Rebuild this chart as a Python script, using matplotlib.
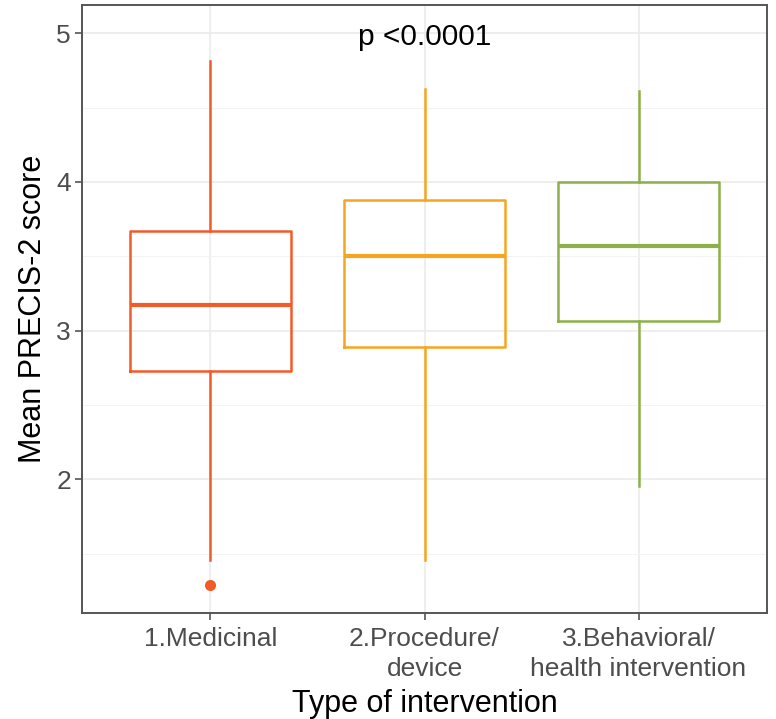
import matplotlib
matplotlib.use("Agg")
import matplotlib.pyplot as plt

plt.rcParams["font.family"] = ["Liberation Sans", "DejaVu Sans"]

# Five-number summaries per intervention type
categories = ["1.Medicinal", "2.Procedure/\ndevice", "3.Behavioral/\nhealth intervention"]
whislo = [1.456, 1.456, 1.953]
q1 = [2.727, 2.888, 3.063]
med = [3.171, 3.500, 3.568]
q3 = [3.668, 3.877, 4.000]
whishi = [4.810, 4.623, 4.610]
fliers = [[1.288], [], []]
colors = ["#F15A29", "#F6A521", "#8DB04B"]

fig = plt.figure(figsize=(7.76, 7.19), dpi=100)
ax = fig.add_axes([82 / 776, 1 - 613 / 719, 685 / 776, 608 / 719])

stats = [dict(whislo=whislo[i], q1=q1[i], med=med[i], q3=q3[i], whishi=whishi[i],
              fliers=fliers[i], label=categories[i]) for i in range(len(categories))]

for i, st in enumerate(stats):
    c = colors[i]
    ax.bxp([st], positions=[i + 1], widths=0.75, showcaps=False,
           boxprops=dict(color=c, lw=1.8),
           whiskerprops=dict(color=c, lw=1.8),
           medianprops=dict(color=c, lw=3.0),
           flierprops=dict(marker="o", markerfacecolor=c, markeredgecolor=c, markersize=7),
           zorder=3)

ax.set_xlim(0.4, 3.6)
ax.set_ylim(1.10, 5.19)
ax.set_xticks([1, 2, 3])
ax.set_xticklabels(categories, fontsize=19, color="#4D4D4D", linespacing=1.3)
ax.set_yticks([2, 3, 4, 5])
ax.set_yticks([1.5, 2.5, 3.5, 4.5], minor=True)
ax.tick_params(axis="y", labelsize=19, labelcolor="#4D4D4D", color="#555555", length=5, width=1.2, pad=3)
ax.tick_params(axis="x", color="#555555", length=5, width=1.2, pad=5)
ax.tick_params(which="minor", length=0)

ax.grid(which="major", color="#EBEBEB", lw=1.2, zorder=0)
ax.grid(which="minor", axis="y", color="#F3F3F3", lw=0.7, zorder=0)
ax.set_axisbelow(True)
for s in ax.spines.values():
    s.set_color("#555555")
    s.set_linewidth(1.4)

ax.text(2, 4.92, "p <0.0001", ha="center", va="baseline", fontsize=21.5, color="black")
ax.set_xlabel("Type of intervention", fontsize=22, labelpad=6)
ax.set_ylabel("Mean PRECIS-2 score", fontsize=22, labelpad=6)

fig.savefig("out.png", dpi=100, facecolor="white")
